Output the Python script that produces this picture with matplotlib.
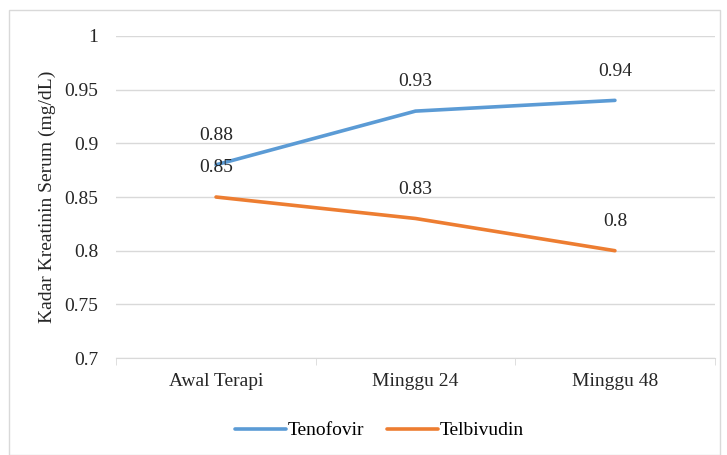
import matplotlib.pyplot as plt
from matplotlib.patches import Rectangle

categories = ['Awal Terapi', 'Minggu 24', 'Minggu 48']
tenofovir = [0.88, 0.93, 0.94]
telbivudin = [0.85, 0.83, 0.80]
yticks = [0.7, 0.75, 0.8, 0.85, 0.9, 0.95, 1]
ytick_labels = ['0.7', '0.75', '0.8', '0.85', '0.9', '0.95', '1']

plt.rcParams['font.family'] = ['Liberation Serif', 'DejaVu Serif']
fs = 14

fig = plt.figure(figsize=(7.27, 4.55), dpi=100)
ax = fig.add_axes([0.16, 0.213, 0.823, 0.708])

# light outer border like the office chart frame
fig.patches.append(Rectangle((9 / 727, 0), 711 / 727, 445 / 455, transform=fig.transFigure,
                             fill=False, edgecolor='#d9d9d9', linewidth=1))

x = range(len(categories))
ax.plot(x, tenofovir, color='#5b9bd5', linewidth=2.6, solid_capstyle='round', label='Tenofovir')
ax.plot(x, telbivudin, color='#ed7d31', linewidth=2.6, solid_capstyle='round', label='Telbivudin')

for xi, v in zip(x, tenofovir):
    ax.annotate(f'{v:g}', (xi, v), xytext=(0, 21), textcoords='offset points',
                ha='center', va='center', fontsize=fs, color='#262626')
for xi, v in zip(x, telbivudin):
    ax.annotate(f'{v:g}', (xi, v), xytext=(0, 21), textcoords='offset points',
                ha='center', va='center', fontsize=fs, color='#262626')

ax.set_xlim(-0.5, 2.5)
ax.set_ylim(0.7, 1.0)
ax.set_yticks(yticks)
ax.set_yticklabels(ytick_labels)
ax.set_xticks(list(x))
ax.set_xticklabels(categories)
ax.set_xticks([-0.5, 0.5, 1.5, 2.5], minor=True)
ax.tick_params(axis='x', which='major', length=0, pad=11, labelsize=fs, labelcolor='#262626')
ax.tick_params(axis='x', which='minor', length=5, color='#d9d9d9')
ax.tick_params(axis='y', length=0, pad=13, labelsize=fs, labelcolor='#262626')

ax.grid(axis='y', color='#d9d9d9', linewidth=1)
ax.set_axisbelow(True)
for s in ['top', 'right', 'left']:
    ax.spines[s].set_visible(False)
ax.spines['bottom'].set_color('#d9d9d9')

ax.set_ylabel('Kadar Kreatinin Serum (mg/dL)', fontsize=fs, color='#262626', labelpad=6)

ax.legend(loc='center', bbox_to_anchor=(0.44, -0.225), ncol=2, frameon=False,
          fontsize=fs, handlelength=2.6, handletextpad=0.1, columnspacing=1.2)

fig.savefig('out.png', dpi=100)
